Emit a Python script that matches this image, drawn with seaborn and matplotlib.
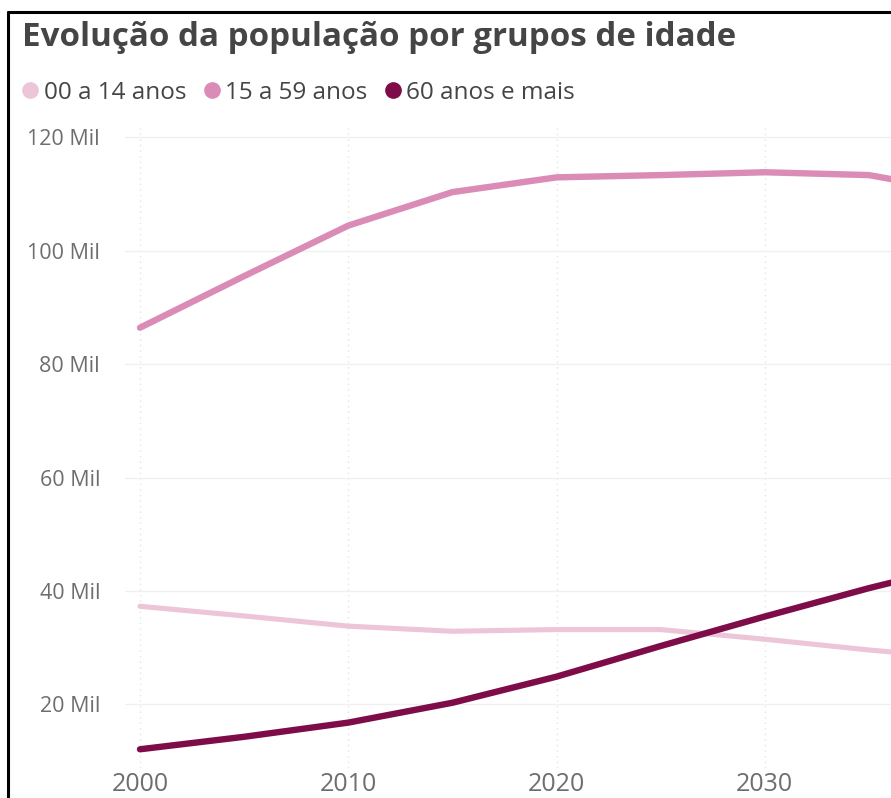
import matplotlib
matplotlib.use("Agg")
import matplotlib.pyplot as plt
import seaborn as sns
import pandas as pd
from matplotlib.lines import Line2D
from matplotlib.ticker import FuncFormatter, MultipleLocator

# ---- data (thousands) ----
years = [2000, 2005, 2010, 2015, 2020, 2025, 2030, 2035, 2040]
grupo_00_14 = [37.3, 35.6, 33.8, 32.9, 33.2, 33.2, 31.5, 29.6, 28.0]
grupo_15_59 = [86.4, 95.5, 104.4, 110.3, 112.9, 113.3, 113.8, 113.3, 110.0]
grupo_60_mais = [12.1, 14.3, 16.8, 20.3, 24.9, 30.3, 35.5, 40.5, 45.0]
series_names = ["00 a 14 anos", "15 a 59 anos", "60 anos e mais"]
colors = ["#EDC5D9", "#DA8CB7", "#7E0C48"]
title = "Evolução da população por grupos de idade"
x_ticks = [2000, 2010, 2020, 2030]

df = pd.concat([
    pd.DataFrame({"ano": years, "valor": v, "grupo": n})
    for n, v in zip(series_names, [grupo_00_14, grupo_15_59, grupo_60_mais])
])

sns.set_style("white")
plt.rcParams["font.family"] = ["Open Sans", "DejaVu Sans"]

fig = plt.figure(figsize=(8.91, 7.98), dpi=100)
ax = fig.add_axes([125 / 891, 1 - 768 / 798, 1 - 125 / 891, (768 - 128) / 798])

sns.lineplot(data=df, x="ano", y="valor", hue="grupo", hue_order=series_names,
             palette=dict(zip(series_names, colors)), linewidth=4.3, ax=ax,
             legend=False)
for ln, lw in zip(ax.get_lines(), [3.7, 4.6, 4.6]):
    ln.set_linewidth(lw)
    ln.set_solid_capstyle("round")
    ln.set_solid_joinstyle("round")

ax.set_xlim(1999.28, 2036.06)
ax.set_ylim(8.8, 121.6)
ax.set_xticks(x_ticks)
ax.yaxis.set_major_locator(MultipleLocator(20))
ax.yaxis.set_major_formatter(FuncFormatter(lambda v, p: f"{int(v)} Mil"))
ax.set_xlabel("")
ax.set_ylabel("")
for s in ax.spines.values():
    s.set_visible(False)
ax.tick_params(axis="both", length=0, colors="#6e6e6e")
ax.tick_params(axis="y", labelsize=15.5, pad=18)
ax.tick_params(axis="x", labelsize=18, pad=3)
ax.grid(axis="y", color="#f0f0f0", linewidth=1.0, linestyle="-")
ax.grid(axis="x", color="#e4e4e4", linewidth=1.0, linestyle=(0, (1, 3)))
ax.set_axisbelow(True)

t = fig.text(22 / 891, 1 - 37 / 798, title, fontsize=20, fontweight="bold",
             color="#454545", va="center", ha="left")
fig.canvas.draw()
w = t.get_window_extent().width
t.set_fontsize(20 * 713 / w)

handles = [Line2D([], [], linestyle="none", marker="o", markersize=11,
                  markerfacecolor=c, markeredgecolor=c) for c in colors]
fig.legend(handles, series_names, loc="center left",
           bbox_to_anchor=(18 / 891, 1 - 93 / 798), ncol=3, frameon=False,
           fontsize=17.5, handletextpad=0.05, columnspacing=0.55,
           handlelength=1.0, borderaxespad=0, borderpad=0,
           labelcolor="#454545")

# black frame edges (top and left)
fig.add_artist(Line2D([8 / 891, 8 / 891], [0, 1 - 12 / 798], transform=fig.transFigure,
                      color="black", linewidth=2.2))
fig.add_artist(Line2D([8 / 891, 1], [1 - 12 / 798, 1 - 12 / 798], transform=fig.transFigure,
                      color="black", linewidth=2.2))

fig.savefig("out.png", dpi=100, facecolor="white")
